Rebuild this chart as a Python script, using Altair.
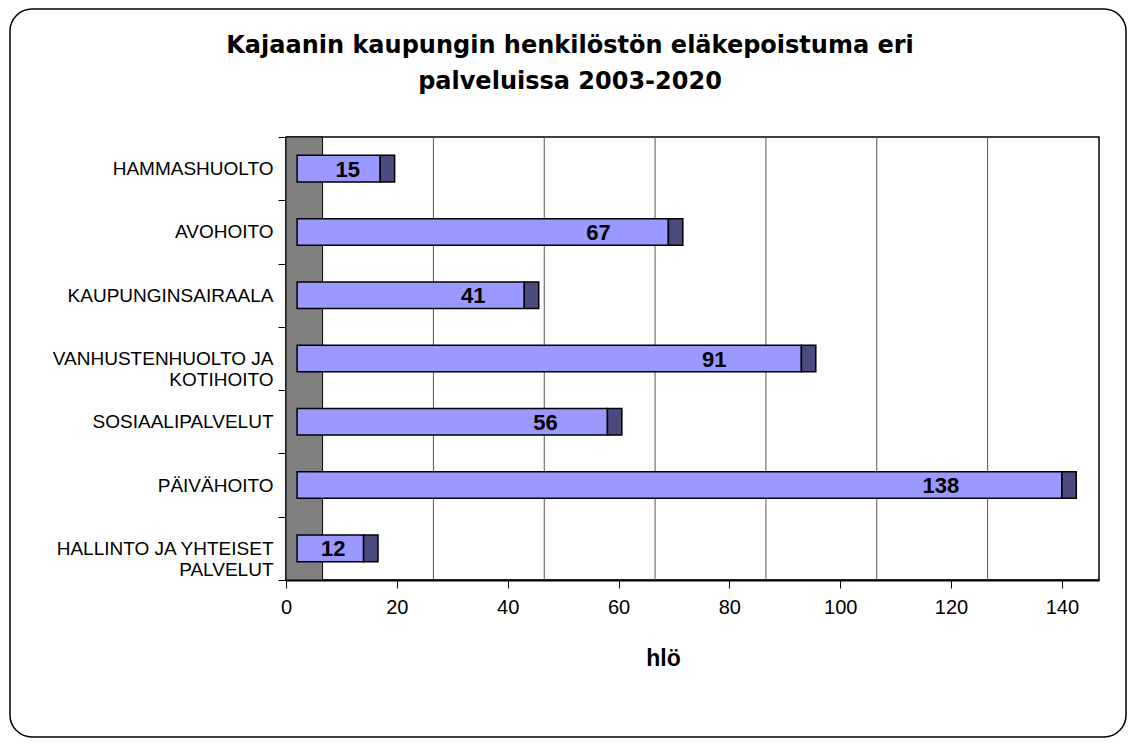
import altair as alt
import pandas as pd

# ---- data ----
categories = [
    "HAMMASHUOLTO",
    "AVOHOITO",
    "KAUPUNGINSAIRAALA",
    "VANHUSTENHUOLTO JA\nKOTIHOITO",
    "SOSIAALIPALVELUT",
    "PÄIVÄHOITO",
    "HALLINTO JA YHTEISET\nPALVELUT",
]
values = [15, 67, 41, 91, 56, 138, 12]
x_ticks = [0, 20, 40, 60, 80, 100, 120, 140]
grid_values = [20, 40, 60, 80, 100, 120]
title_text = "Kajaanin kaupungin henkilöstön eläkepoistuma eri\npalveluissa 2003-2020"
x_title = "hlö"

# ---- styling constants (pseudo-3D look) ----
DEPTH = 6.6       # depth of the back wall, in axis units
BAR_START = 2.0   # front face of the bars starts a little off the wall
END_FACE = 2.6    # visible dark end face of the bars
X_MAX = 146.7

FRONT = "#9999FF"
SIDE = "#4B4B80"
WALL = "#808080"

df = pd.DataFrame({"cat": categories, "val": values})
df["x0"] = BAR_START
df["x1"] = df["val"] + BAR_START
df["x2"] = df["x1"] + END_FACE
df["lx"] = 0.87 * df["val"] - 1.9

wall = pd.DataFrame({"a": [0.0], "b": [DEPTH]})
grid = pd.DataFrame({"v": grid_values})
grid["gx"] = grid["v"] + DEPTH

x_scale = alt.Scale(domain=[0, X_MAX], nice=False, zero=False)
x_axis = alt.Axis(
    values=x_ticks, title=x_title, grid=False,
    domainColor="black", domainWidth=2,
    tickColor="black", tickSize=8, tickWidth=1,
    labelFont="Liberation Sans", labelFontSize=20, labelColor="black",
    labelPadding=9, labelFlush=False,
    titleFont="Liberation Sans", titleFontSize=23, titleFontWeight="bold",
    titleColor="black", titleX=377, titleY=78, titleAlign="center",
    titleBaseline="middle",
)
y_axis = alt.Axis(
    title=None, labelExpr="split(datum.label, '\\n')",
    labelFont="Liberation Sans", labelFontSize=19, labelColor="black",
    labelLineHeight=21, labelPadding=5, labelLimit=400,
    tickBand="extent", tickColor="black", tickSize=8, tickWidth=1,
    domainColor="black", domainWidth=1, grid=False,
)
y_enc = alt.Y("cat:N", sort=categories,
              scale=alt.Scale(paddingInner=0, paddingOuter=0), axis=y_axis)

wall_layer = alt.Chart(wall).mark_rect(
    color=WALL, stroke="black", strokeWidth=1
).encode(
    x=alt.X("a:Q", scale=x_scale, axis=x_axis),
    x2="b:Q",
)

grid_layer = alt.Chart(grid).mark_rule(color="#555555", strokeWidth=1).encode(
    x=alt.X("gx:Q", scale=x_scale, axis=x_axis),
)

front_layer = alt.Chart(df).mark_bar(
    color=FRONT, stroke="black", strokeWidth=1.5,
    height=alt.RelativeBandSize(0.42),
).encode(
    x=alt.X("x0:Q", scale=x_scale, axis=x_axis),
    x2="x1:Q",
    y=y_enc,
)

side_layer = alt.Chart(df).mark_bar(
    color=SIDE, stroke="black", strokeWidth=1.5,
    height=alt.RelativeBandSize(0.42),
).encode(
    x=alt.X("x1:Q", scale=x_scale, axis=x_axis),
    x2="x2:Q",
    y=y_enc,
)

label_layer = alt.Chart(df).mark_text(
    font="Liberation Sans", fontSize=22, fontWeight="bold", color="black",
    align="center", baseline="middle", dy=1,
).encode(
    x=alt.X("lx:Q", scale=x_scale, axis=x_axis),
    y=y_enc,
    text=alt.Text("val:Q"),
)

frame_layer = alt.Chart(pd.DataFrame({"k": [0]})).mark_rect(
    fillOpacity=0, stroke="black", strokeWidth=1.5, cornerRadius=22,
).encode(
    x=alt.value(-276), x2=alt.value(840),
    y=alt.value(-128), y2=alt.value(600),
)

title_layer = alt.Chart(pd.DataFrame({"t": [title_text]})).mark_text(
    font="DejaVu Sans", fontSize=24, fontWeight="bold", color="black",
    align="center", baseline="alphabetic", lineBreak="\n", lineHeight=36,
).encode(
    x=alt.value(284), y=alt.value(-84), text="t:N",
)

chart = alt.layer(
    wall_layer, grid_layer, front_layer, side_layer, label_layer,
    frame_layer, title_layer,
).properties(
    width=813, height=443,
    autosize=alt.AutoSizeParams(type="none"),
    padding={"left": 278, "top": 129, "right": 28, "bottom": 158},
    background="white",
).configure_view(
    stroke="black", strokeWidth=1.5, fill="white",
)

chart.save("out.html", embed_options={"renderer": "svg", "actions": False})
